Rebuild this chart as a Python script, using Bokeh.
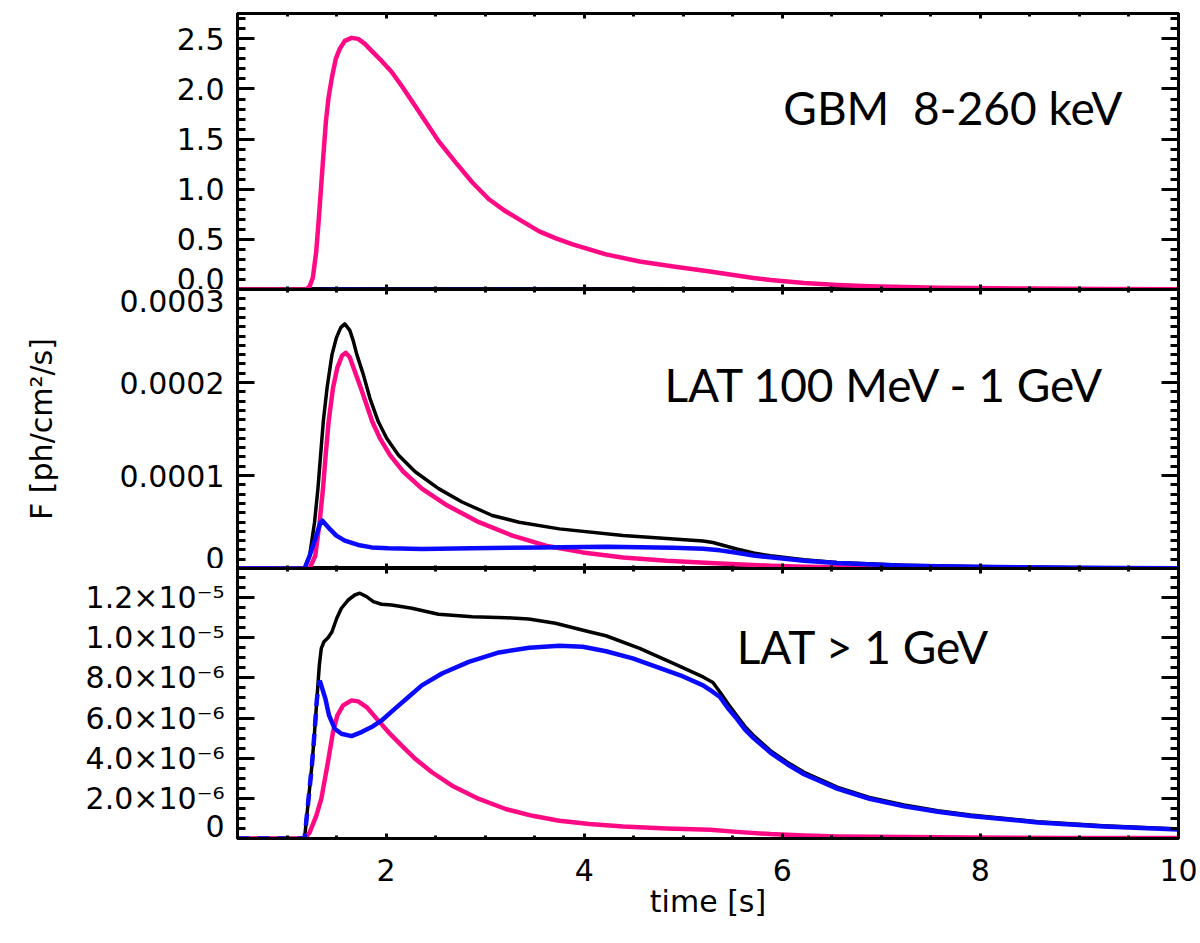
import numpy as np
from bokeh.plotting import figure
from bokeh.layouts import column
from bokeh.models import LinearAxis, FixedTicker, Range1d, Label, CustomJSTickFormatter
from bokeh.embed import file_html
from bokeh.resources import INLINE

# ---------------- data ----------------
# Panel 1: GBM 8-260 keV
gbm_pink_t = [0.5, 1.194, 1.228, 1.261, 1.295, 1.322, 1.346, 1.370, 1.393, 1.420, 1.454, 1.492,
              1.532, 1.583, 1.651, 1.718, 1.786, 1.854, 1.955, 2.057, 2.158, 2.260, 2.395, 2.530,
              2.700, 2.869, 3.038, 3.207, 3.376, 3.546, 3.715, 3.884, 4.22, 4.56, 4.90, 5.27,
              5.37, 5.54, 5.71, 5.88, 6.05, 6.22, 6.56, 6.88, 7.23, 7.57, 7.90, 8.50, 9.20, 10.0]
gbm_pink_f = [0.0, 0.0, 0.03, 0.12, 0.38, 0.72, 1.05, 1.38, 1.68, 1.92, 2.12, 2.30,
              2.40, 2.48, 2.51, 2.50, 2.45, 2.38, 2.28, 2.17, 2.03, 1.88, 1.68, 1.48,
              1.27, 1.07, 0.90, 0.78, 0.68, 0.58, 0.51, 0.45, 0.35, 0.28, 0.23, 0.18,
              0.165, 0.14, 0.115, 0.095, 0.08, 0.065, 0.045, 0.033, 0.024, 0.018, 0.014, 0.009,
              0.005, 0.003]
gbm_blue_t = [0.5, 1.19, 1.5, 2.0, 3.0, 5.0, 10.0]
gbm_blue_f = [0.0, 0.0, 0.004, 0.003, 0.002, 0.001, 0.0]

# Panel 2: LAT 100 MeV - 1 GeV (units of 1e-4 ph/cm2/s)
lat1_black_t = [0.5, 1.177, 1.228, 1.278, 1.312, 1.339, 1.366, 1.404, 1.454, 1.498, 1.542, 1.583,
                1.634, 1.668, 1.705, 1.769, 1.837, 1.921, 2.006, 2.124, 2.294, 2.530, 2.767,
                3.072, 3.343, 3.749, 4.392, 5.20, 5.30, 5.40, 5.54, 5.71, 5.88, 6.22, 6.55,
                7.23, 7.91, 8.92, 10.0]
lat1_black_f = [0.0, 0.0, 0.137, 0.498, 0.859, 1.22, 1.58, 1.94, 2.30, 2.48, 2.59, 2.63,
                2.56, 2.45, 2.30, 2.09, 1.83, 1.58, 1.40, 1.22, 1.04, 0.859, 0.715,
                0.570, 0.498, 0.426, 0.354, 0.295, 0.28, 0.25, 0.21, 0.166, 0.137, 0.094, 0.065,
                0.036, 0.022, 0.011, 0.004]
lat1_pink_t = [0.5, 1.228, 1.285, 1.329, 1.363, 1.390, 1.420, 1.464, 1.508, 1.556, 1.593, 1.634,
               1.684, 1.745, 1.803, 1.860, 1.938, 2.040, 2.175, 2.361, 2.615, 2.937, 3.275,
               3.613, 3.986, 4.392, 4.832, 5.272, 5.54, 5.88, 6.22, 6.56, 7.23, 7.90, 8.90, 10.0]
lat1_pink_f = [0.0, 0.0, 0.137, 0.498, 0.859, 1.22, 1.58, 1.94, 2.16, 2.29, 2.32, 2.27,
               2.12, 1.94, 1.76, 1.58, 1.40, 1.22, 1.04, 0.859, 0.679, 0.498, 0.354,
               0.245, 0.173, 0.119, 0.083, 0.058, 0.045, 0.03, 0.02, 0.014, 0.009, 0.006, 0.004,
               0.002]
lat1_blue_t = [0.5, 1.177, 1.228, 1.285, 1.339, 1.356, 1.431, 1.498, 1.583, 1.718, 1.854, 2.023,
               2.361, 2.869, 3.546, 4.223, 4.899, 5.20, 5.37, 5.54, 5.71, 5.88, 6.22, 6.55, 7.23,
               7.91, 8.92, 10.0]
lat1_blue_f = [0.0, 0.0, 0.137, 0.318, 0.498, 0.516, 0.426, 0.354, 0.30, 0.253, 0.227, 0.217,
               0.209, 0.217, 0.227, 0.235, 0.224, 0.212, 0.195, 0.17, 0.14, 0.12, 0.083, 0.058,
               0.03, 0.018, 0.007, 0.003]

# Panel 3: LAT > 1 GeV (units of 1e-6 ph/cm2/s)
lat2_black_t = [0.5, 1.177, 1.217, 1.251, 1.278, 1.302, 1.326, 1.346, 1.373, 1.414, 1.454, 1.502,
                1.549, 1.617, 1.684, 1.735, 1.803, 1.871, 1.955, 2.057, 2.26, 2.53, 2.87, 3.21,
                3.44, 3.71, 4.05, 4.22, 4.56, 4.90, 5.20, 5.30, 5.37, 5.45, 5.54, 5.62, 5.71,
                5.88, 6.05, 6.22, 6.56, 6.88, 7.23, 7.57, 7.90, 8.58, 9.24, 10.0]
lat2_black_f = [0.0, 0.0, 1.97, 3.63, 5.30, 6.97, 8.63, 9.47, 9.80, 10.0, 10.3, 10.97,
                11.47, 11.88, 12.13, 12.22, 12.05, 11.8, 11.67, 11.63, 11.47, 11.17, 11.05, 11.0,
                10.93, 10.72, 10.3, 10.1, 9.47, 8.72, 8.05, 7.77, 7.3, 6.72, 6.13, 5.6, 5.13,
                4.38, 3.8, 3.3, 2.55, 2.05, 1.67, 1.38, 1.17, 0.83, 0.63, 0.47]
lat2_blue_t = [0.5, 1.177, 1.217, 1.251, 1.278, 1.302, 1.33, 1.387, 1.424, 1.481, 1.549, 1.651,
               1.752, 1.854, 1.955, 2.09, 2.226, 2.361, 2.564, 2.835, 3.14, 3.444, 3.749, 3.986,
               4.22, 4.49, 4.73, 4.97, 5.20, 5.30, 5.37, 5.45, 5.54, 5.62, 5.71, 5.88, 6.05,
               6.22, 6.56, 6.88, 7.23, 7.57, 7.90, 8.58, 9.24, 10.0]
lat2_blue_f = [0.0, 0.0, 1.97, 3.63, 5.30, 6.97, 7.88, 6.97, 6.13, 5.47, 5.22, 5.1,
               5.3, 5.55, 5.88, 6.47, 7.05, 7.63, 8.22, 8.8, 9.27, 9.5, 9.6, 9.55,
               9.33, 8.97, 8.55, 8.13, 7.63, 7.3, 7.05, 6.5, 5.97, 5.45, 5.0, 4.28, 3.7,
               3.2, 2.47, 1.98, 1.6, 1.33, 1.12, 0.8, 0.6, 0.45]
lat2_pink_t = [0.5, 1.177, 1.228, 1.295, 1.346, 1.407, 1.464, 1.508, 1.566, 1.651, 1.718, 1.803,
               1.904, 2.023, 2.158, 2.294, 2.463, 2.666, 2.937, 3.207, 3.478, 3.749, 4.053,
               4.392, 4.832, 5.272, 5.54, 5.88, 6.22, 6.56, 7.23, 7.90, 8.90, 10.0]
lat2_pink_f = [0.0, 0.0, 0.3, 1.13, 1.97, 3.63, 5.3, 6.13, 6.63, 6.88, 6.83, 6.55,
               5.97, 5.3, 4.63, 3.97, 3.3, 2.63, 1.97, 1.47, 1.13, 0.88, 0.72,
               0.6, 0.5, 0.43, 0.33, 0.22, 0.15, 0.10, 0.07, 0.05, 0.03, 0.02]

# axis ticks / labels
x_ticks = [2, 4, 6, 8, 10]
gbm_ticks = [0.0, 0.5, 1.0, 1.5, 2.0, 2.5]
gbm_labels = ["0.0", "0.5", "1.0", "1.5", "2.0", "2.5"]
lat1_ticks = [0.0, 1e-4, 2e-4, 3e-4]
lat1_labels = ["0", "0.0001", "0.0002", "0.0003"]
lat2_ticks = [0.0, 2e-6, 4e-6, 6e-6, 8e-6, 1.0e-5, 1.2e-5]
lat2_labels = ["0", "2.0×10⁻⁶", "4.0×10⁻⁶", "6.0×10⁻⁶", "8.0×10⁻⁶", "1.0×10⁻⁵", "1.2×10⁻⁵"]

PINK = "#ff0a84"
BLUE = "#0a0aff"
BLACK = "#000000"
TFONT = "DejaVu Sans"
TSIZE = "30px"
PFONT = "Lato"
PSIZE = "46px"

x_minor = list(np.arange(0.5, 10.001, 0.5))


def hidden_axis(ticker, tick_in, minor_in):
    return LinearAxis(ticker=ticker, formatter=CustomJSTickFormatter(code="return ''"),
                      major_label_text_font_size="0px", major_label_standoff=0,
                      major_tick_in=tick_in, major_tick_out=0, minor_tick_in=minor_in,
                      minor_tick_out=0, major_tick_line_width=3, minor_tick_line_width=3,
                      axis_line_width=3, axis_line_color="black")


def make_panel(frame_h, y_end, yticks, ylabels, yminor, top, bottom, lh):
    p = figure(frame_width=941, frame_height=frame_h, x_range=Range1d(0.5, 10.0),
               y_range=Range1d(0, y_end), output_backend="svg", toolbar_location=None,
               x_axis_location=None, y_axis_location=None,
               min_border_left=237, min_border_right=22, min_border_top=top,
               min_border_bottom=bottom)
    p.grid.visible = False
    p.outline_line_color = "black"
    p.outline_line_width = 3
    p.background_fill_color = "white"
    p.border_fill_color = "white"
    overrides = {}
    for t, l in zip(yticks, ylabels):
        # the lowest label sits just above the bottom edge (padded with an empty line
        # where the canvas continues below the frame)
        if t == 0 and bottom > 0:
            overrides[t] = l + "\n "
        else:
            overrides[t] = l
    yt = FixedTicker(ticks=yticks, minor_ticks=yminor)
    ax = LinearAxis(ticker=yt, major_label_overrides=overrides,
                    major_tick_in=17, major_tick_out=0, minor_tick_in=8, minor_tick_out=0,
                    major_tick_line_width=3, minor_tick_line_width=3, axis_line_width=3,
                    major_label_standoff=13, major_label_text_font=TFONT,
                    major_label_text_font_size=TSIZE, major_label_text_color="black",
                    major_label_text_line_height=lh)
    p.add_layout(ax, "left")
    p.add_layout(hidden_axis(FixedTicker(ticks=yticks, minor_ticks=yminor), 17, 8), "right")
    p.add_layout(hidden_axis(FixedTicker(ticks=x_ticks, minor_ticks=x_minor), 5, 3), "above")
    return p, ax


# ---------------- panel 1 ----------------
p1, ax1 = make_panel(276, 2.753, gbm_ticks, gbm_labels, list(np.arange(0, 2.75, 0.1)), 13, 0, 1.0)
p1.add_layout(hidden_axis(FixedTicker(ticks=x_ticks, minor_ticks=x_minor), 5, 3), "below")
p1.line(gbm_blue_t, gbm_blue_f, color=BLUE, line_width=3)
p1.line(gbm_pink_t, gbm_pink_f, color=PINK, line_width=4.5, line_join="round")
p1.add_layout(Label(x=6.01, y=1.82, text="GBM\u00a0 8-260 keV", text_font=PFONT,
                    text_font_size=PSIZE, text_baseline="alphabetic", text_color="black"))

# ---------------- panel 2 ----------------
s1 = 1e-4
p2, ax2 = make_panel(279, 3.0e-4, lat1_ticks, lat1_labels, list(np.arange(0, 3.0e-4, 1e-5)), 0, 0, 1.0)
p2.add_layout(hidden_axis(FixedTicker(ticks=x_ticks, minor_ticks=x_minor), 5, 3), "below")
ax2.axis_label = "F [ph/cm²/s]"
ax2.axis_label_text_font = TFONT
ax2.axis_label_text_font_size = TSIZE
ax2.axis_label_text_font_style = "normal"
ax2.axis_label_text_color = "black"
ax2.axis_label_standoff = 58
p2.line(lat1_black_t, np.array(lat1_black_f) * s1, color=BLACK, line_width=3.5, line_join="round")
p2.line(lat1_pink_t, np.array(lat1_pink_f) * s1, color=PINK, line_width=4.5, line_join="round")
p2.line(lat1_blue_t, np.array(lat1_blue_f) * s1, color=BLUE, line_width=4.5, line_join="round")
p2.add_layout(Label(x=4.81, y=1.974e-4, text="LAT 100 MeV - 1 GeV", text_font=PFONT,
                    text_font_size=PSIZE, text_baseline="alphabetic", text_color="black"))

# ---------------- panel 3 ----------------
s2 = 1e-6
p3, ax3 = make_panel(270, 1.345e-5, lat2_ticks, lat2_labels, list(np.arange(0, 1.34e-5, 5e-7)), 0, 105, 0.7)
xax = LinearAxis(ticker=FixedTicker(ticks=x_ticks, minor_ticks=x_minor),
                 major_tick_in=5, major_tick_out=0, minor_tick_in=3, minor_tick_out=0,
                 major_tick_line_width=3, minor_tick_line_width=3, axis_line_width=3,
                 major_label_standoff=20, major_label_text_font=TFONT,
                 major_label_text_font_size=TSIZE, major_label_text_color="black",
                 axis_label="time [s]", axis_label_text_font=TFONT,
                 axis_label_text_font_size=TSIZE, axis_label_text_color="black",
                 axis_label_text_font_style="normal", axis_label_standoff=0)
p3.add_layout(xax, "below")
bt = np.array(lat2_blue_t)
bf = np.array(lat2_blue_f) * s2
rise = bt <= 1.33
p3.line(lat2_black_t, np.array(lat2_black_f) * s2, color=BLACK, line_width=3.5, line_join="round")
p3.line(lat2_pink_t, np.array(lat2_pink_f) * s2, color=PINK, line_width=4.5, line_join="round")
p3.line(bt[rise], bf[rise], color=BLUE, line_width=4.5, line_dash="12 8")
p3.line(bt[bt >= 1.33], bf[bt >= 1.33], color=BLUE, line_width=4.5, line_join="round")
p3.add_layout(Label(x=5.54, y=9.58e-6, text="LAT > 1 GeV", text_font=PFONT, text_font_size=PSIZE,
                    text_baseline="alphabetic", text_color="black"))

layout = column(p1, p2, p3, spacing=0)
open("out.html", "w").write(file_html(layout, INLINE))
